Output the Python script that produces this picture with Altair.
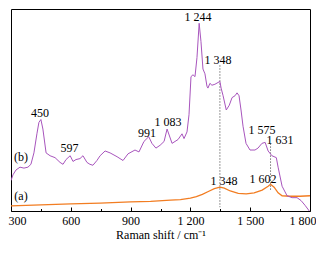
import altair as alt
import pandas as pd

# curve (b) - purple
b_wn = [300, 310, 325, 345, 365, 385, 400, 415, 430, 440, 450, 460, 476, 496, 521, 546, 561, 576,
        597, 611, 626, 646, 661, 681, 696, 711, 731, 747, 772, 797, 832, 862, 887, 922, 942, 967,
        991, 1007, 1027, 1048, 1068, 1083, 1108, 1138, 1158, 1168, 1183, 1193, 1203, 1213, 1223,
        1233, 1244, 1253, 1263, 1273, 1283, 1288, 1298, 1308, 1323, 1348, 1354, 1364, 1380, 1395,
        1409, 1424, 1434, 1444, 1454, 1464, 1479, 1499, 1524, 1539, 1559, 1575, 1590, 1609, 1631,
        1640, 1660, 1685, 1710, 1735, 1755, 1775, 1800]
b_int = [32, 38, 43, 46, 45, 46, 49, 61, 81, 93, 96, 86, 61, 58, 56, 51, 49, 54,
         58, 52, 54, 55, 58, 51, 49, 48, 53, 58, 63, 61, 57, 53, 60, 64, 62, 73,
         78, 71, 66, 69, 73, 86, 71, 75, 81, 76, 83, 101, 141, 143, 141,
         161, 197, 178, 149, 144, 131, 129, 134, 132, 133, 136, 129, 121, 106, 111,
         119, 121, 124, 121, 106, 89, 71, 64, 64, 66, 71, 72, 63, 58, 56,
         46, 26, 16, 14, 14, 11, 6, -1]

# curve (a) - orange
a_wn = [300, 450, 600, 747, 900, 1000, 1100, 1150, 1200, 1230, 1260, 1290, 1320, 1348, 1370,
        1400, 1440, 1480, 1520, 1560, 1590, 1602, 1620, 1640, 1660, 1700, 1750, 1800]
a_int = [5.3, 6.5, 7.5, 8.3, 9.5, 10, 11.5, 12, 13.5, 15, 17.5, 20.5, 23.5, 25, 24,
         21, 18.5, 18, 19, 22, 26, 28, 25, 19, 16, 15.5, 15.5, 16]

# annotations
lab_text = ["(b)", "(a)", "450", "597", "991", "1 083", "1 244", "1 348", "1 575", "1 631",
            "1 348", "1 602"]
lab_wn = [350, 350, 445, 593, 982, 1088, 1238, 1339, 1559, 1650, 1369, 1564]
lab_int = [57, 16, 103, 66, 82, 93, 204, 158, 85, 75, 32, 34]

# dotted guide lines
rule_wn = [1348, 1602]
rule_top = [153, 71]
rule_bot = [4, 22]

major_ticks = [300, 600, 900, 1200, 1500, 1800]
minor_ticks = [450, 750, 1050, 1350, 1650]

FONT = "Liberation Serif"
xscale = alt.Scale(domain=[300, 1800], nice=False, zero=False)
yscale = alt.Scale(domain=[0, 212], nice=False, zero=False)

df_b = pd.DataFrame({"wn": b_wn, "v": b_int})
df_a = pd.DataFrame({"wn": a_wn, "v": a_int})
df_l = pd.DataFrame({"wn": lab_wn, "v": lab_int, "t": lab_text})
df_r = pd.DataFrame({"wn": rule_wn, "y1": rule_top, "y2": rule_bot})

label_expr = ("datum.value >= 1000 ? floor(datum.value/1000) + ' ' + "
              "format(datum.value % 1000, '03d') : datum.label")

major_axis = alt.Axis(
    orient="bottom", values=major_ticks, tickSize=4, offset=-4, domain=False,
    grid=False, labelPadding=4, labelFont=FONT, labelFontSize=12,
    labelColor="black", tickColor="black", labelExpr=label_expr,
    labelFlush=False, labelOverlap=False, labelBound=False,
    labelAlign={"condition": [{"test": "datum.value <= 300", "value": "left"},
                              {"test": "datum.value >= 1800", "value": "right"}],
                "value": "center"},
    labelOffset={"condition": [{"test": "datum.value <= 300", "value": -3},
                               {"test": "datum.value >= 1800", "value": 6}],
                 "value": 0},
    title="Raman shift / cm⁻¹", titleFont=FONT, titleFontSize=12,
    titleFontWeight="normal", titleColor="black", titlePadding=3)
minor_axis = alt.Axis(orient="bottom", values=minor_ticks, tickSize=2.5, offset=-2.5,
                      domain=False, grid=False, labels=False, title=None, tickColor="black")

line_b = alt.Chart(df_b).mark_line(color="#a855bd", strokeWidth=1, clip=True).encode(
    x=alt.X("wn:Q", scale=xscale, axis=major_axis),
    y=alt.Y("v:Q", scale=yscale, axis=None),
)
line_a = alt.Chart(df_a).mark_line(color="#f27d22", strokeWidth=1.3, clip=True).encode(
    x=alt.X("wn:Q", scale=xscale, axis=minor_axis),
    y=alt.Y("v:Q", scale=yscale, axis=None),
)
rules = alt.Chart(df_r).mark_rule(color="#555555", strokeWidth=0.8, strokeDash=[1.5, 1.5]).encode(
    x=alt.X("wn:Q", scale=xscale, axis=None),
    y=alt.Y("y1:Q", scale=yscale, axis=None),
    y2="y2:Q",
)
texts = alt.Chart(df_l).mark_text(font=FONT, fontSize=12, color="black", baseline="middle",
                                  align="center").encode(
    x=alt.X("wn:Q", scale=xscale, axis=None),
    y=alt.Y("v:Q", scale=yscale, axis=None),
    text="t:N",
)

chart = alt.layer(rules, line_a, line_b, texts).resolve_axis(x="independent").properties(
    width=299, height=202,
    background="white",
    autosize=alt.AutoSizeParams(type="none"),
    padding={"left": 3, "top": 1, "right": 6, "bottom": 31},
).configure_view(stroke="black", strokeWidth=1)

chart.save("out.html", embed_options={"renderer": "svg", "actions": False})
